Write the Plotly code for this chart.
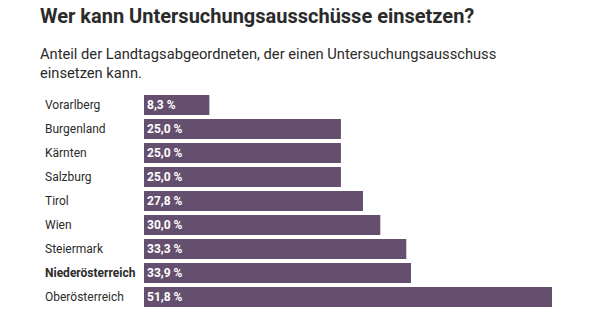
import plotly.graph_objects as go

regions = ["Vorarlberg", "Burgenland", "Kärnten", "Salzburg", "Tirol", "Wien",
           "Steiermark", "Niederösterreich", "Oberösterreich"]
values = [8.3, 25.0, 25.0, 25.0, 27.8, 30.0, 33.3, 33.9, 51.8]
bold_region = "Niederösterreich"

title = "Wer kann Untersuchungsausschüsse einsetzen?"
subtitle = "Anteil der Landtagsabgeordneten, der einen Untersuchungsausschuss<br>einsetzen kann."

W, H = 594, 325
ml, mr, mt, mb = 144, 42, 93, 16
pw = W - ml - mr
ph = H - mt - mb

bar_color = "#64506e"
text_color = "#2b2b2b"
font = "Roboto, Arial, sans-serif"

labels = [f"{v:.1f}".replace(".", ",") + " %" for v in values]

fig = go.Figure(go.Bar(
    x=values, y=regions, orientation="h",
    marker=dict(color=bar_color, line=dict(width=0)),
    text=labels, textposition="inside", insidetextanchor="start",
    textfont=dict(color="white", size=12, family=font, weight="bold"),
    cliponaxis=False, hoverinfo="skip",
))


def py(px_from_top):
    return (H - mb - px_from_top) / ph


annotations = []
for r in regions:
    annotations.append(dict(
        x=(43 - ml) / pw, xref="paper", y=r, yref="y",
        text=r, showarrow=False, xanchor="left", yanchor="middle",
        font=dict(size=12, color=text_color, family=font,
                  weight="bold" if r == bold_region else "normal"),
    ))

annotations.append(dict(
    x=(38 - ml) / pw, xref="paper", y=py(2), yref="paper",
    text=title, showarrow=False, xanchor="left", yanchor="top",
    font=dict(size=20, color=text_color, family=font, weight="bold"),
))
annotations.append(dict(
    x=(38 - ml) / pw, xref="paper", y=py(43), yref="paper",
    text=subtitle, showarrow=False, xanchor="left", yanchor="top", align="left",
    font=dict(size=14.7, color=text_color, family=font),
))

fig.update_layout(
    width=W, height=H,
    margin=dict(l=ml, r=mr, t=mt, b=mb),
    paper_bgcolor="white", plot_bgcolor="white",
    showlegend=False,
    bargap=1 - 20 / 24,
    xaxis=dict(range=[0, 51.8], visible=False, fixedrange=True),
    yaxis=dict(range=[8.5, -0.5], showticklabels=False, showgrid=False,
               zeroline=False, showline=False, ticks="", fixedrange=True),
    annotations=annotations,
    uniformtext=dict(minsize=12, mode="show"),
)

fig.write_html("out.html", config={"displayModeBar": False})
